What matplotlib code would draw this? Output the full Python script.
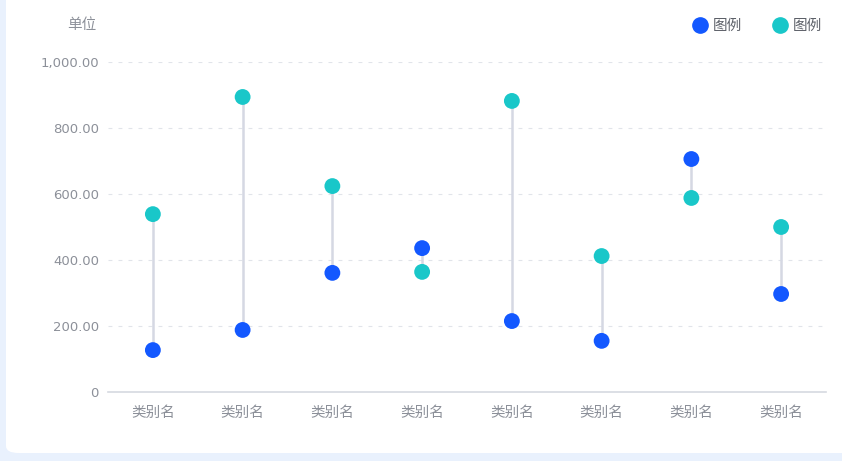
import matplotlib
matplotlib.use("Agg")
import matplotlib.pyplot as plt
from matplotlib.patches import FancyBboxPatch
from matplotlib.lines import Line2D

plt.rcParams['font.family'] = ['Noto Sans CJK SC', 'DejaVu Sans']

categories = ["类别名"] * 8
series_a = [127, 188, 361, 436, 215, 155, 706, 297]
series_b = [539, 894, 624, 364, 882, 412, 588, 500]
legend_names = ["图例", "图例"]
yticks = [0, 200, 400, 600, 800, 1000]
ytick_labels = ["0", "200.00", "400.00", "600.00", "800.00", "1,000.00"]

blue = "#1358ff"
teal = "#19c7c9"
stem_color = "#d5d8e3"
text_color = "#8c9099"

fig = plt.figure(figsize=(8.42, 4.61), dpi=100)
fig.patch.set_facecolor("#e9f1fd")

# white card behind everything
card = FancyBboxPatch((6 / 842, 8 / 461), 860 / 842, 470 / 461,
                      boxstyle="round,pad=0,rounding_size=0.015",
                      transform=fig.transFigure, facecolor="white",
                      edgecolor="none", zorder=-10)
fig.add_artist(card)

ax = fig.add_axes([108 / 842, 1 - 392 / 461, 718 / 842, 330 / 461])
ax.set_facecolor("none")

x = list(range(len(categories)))
for i in x:
    ax.plot([i, i], [series_a[i], series_b[i]], color=stem_color, lw=1.8, zorder=1)
ax.scatter(x, series_a, s=130, color=blue, zorder=3, edgecolors="none")
ax.scatter(x, series_b, s=130, color=teal, zorder=3, edgecolors="none")

ax.set_xlim(-0.5, 7.5)
ax.set_ylim(0, 1000)
ax.set_yticks(yticks)
ax.set_yticklabels(ytick_labels)
ax.set_xticks(x)
ax.set_xticklabels(categories)
ax.tick_params(axis="both", length=0, colors=text_color)
ax.tick_params(axis="y", pad=6.5, labelsize=9.5)
ax.tick_params(axis="x", pad=10, labelsize=10.5)
for lab in ax.get_yticklabels():
    lab.set_family(["DejaVu Sans"])

for v in yticks[1:]:
    ax.axhline(v, color="#e1e4ea", lw=0.8, ls=(0, (3.5, 5.5)), zorder=0)

for side in ["top", "right", "left"]:
    ax.spines[side].set_visible(False)
ax.spines["bottom"].set_color("#d6d9e0")
ax.spines["bottom"].set_linewidth(1.2)

fig.text(82 / 842, 1 - 25 / 461, "单位", fontsize=10.5, color=text_color,
         ha="center", va="center")

handles = [Line2D([], [], marker="o", ls="none", color=blue, markersize=11),
           Line2D([], [], marker="o", ls="none", color=teal, markersize=11)]
leg = fig.legend(handles, legend_names, loc="center right",
                 bbox_to_anchor=(835 / 842, 1 - 26 / 461), ncol=2, frameon=False,
                 fontsize=10.5, handletextpad=0.4, columnspacing=2.05,
                 handlelength=1.0)
for t in leg.get_texts():
    t.set_color("#5c6068")

fig.savefig("out.png", dpi=100, facecolor=fig.get_facecolor())
